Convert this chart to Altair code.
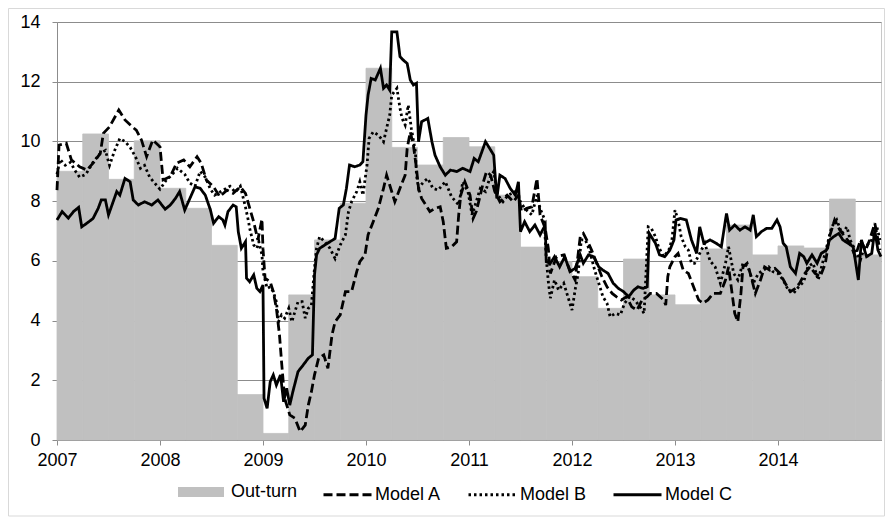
import altair as alt
import pandas as pd

# ---- Out-turn: quarterly values 2007Q1 .. 2014Q4 ----
quarter_start = [2007 + i * 0.25 for i in range(32)]
outturn = [9.0, 10.25, 8.73, 10.02,
           8.43, 7.76, 6.52, 1.52,
           0.22, 4.86, 6.70, 7.93,
           12.45, 9.80, 9.21, 10.13,
           9.82, 8.20, 6.46, 5.97,
           5.47, 4.41, 6.06, 4.86,
           4.53, 6.40, 7.20, 6.20,
           6.50, 6.43, 8.07, 6.20]

# ---- Model A (dashed) ----
a_year = [2007.00, 2007.02, 2007.09, 2007.14, 2007.22, 2007.29, 2007.35, 2007.42, 2007.45, 2007.51,
          2007.60, 2007.66, 2007.73, 2007.77, 2007.82, 2007.87, 2007.93, 2008.00, 2008.03, 2008.10,
          2008.16, 2008.23, 2008.29, 2008.36, 2008.40, 2008.45, 2008.52, 2008.58, 2008.65, 2008.71,
          2008.78, 2008.83, 2008.86, 2008.91, 2008.95, 2008.99, 2009.00, 2009.02, 2009.07, 2009.10,
          2009.13, 2009.16, 2009.18, 2009.21, 2009.26, 2009.31, 2009.36, 2009.41, 2009.44, 2009.47,
          2009.50, 2009.54, 2009.59, 2009.63, 2009.67, 2009.70, 2009.75, 2009.80, 2009.86, 2009.91,
          2009.94, 2009.99, 2010.02, 2010.07, 2010.12, 2010.17, 2010.20, 2010.23, 2010.28, 2010.33,
          2010.38, 2010.40, 2010.43, 2010.46, 2010.49, 2010.51, 2010.54, 2010.57, 2010.62, 2010.67,
          2010.72, 2010.75, 2010.78, 2010.83, 2010.88, 2010.90, 2010.92, 2010.96, 2011.01, 2011.04,
          2011.07, 2011.11, 2011.14, 2011.17, 2011.21, 2011.25, 2011.30, 2011.37, 2011.43, 2011.48,
          2011.51, 2011.56, 2011.61, 2011.66, 2011.69, 2011.74, 2011.77, 2011.79, 2011.85, 2011.92,
          2011.98, 2012.03, 2012.08, 2012.11, 2012.16, 2012.19, 2012.24, 2012.29, 2012.34, 2012.39,
          2012.43, 2012.48, 2012.53, 2012.58, 2012.63, 2012.68, 2012.73, 2012.76, 2012.82, 2012.89,
          2012.91, 2012.93, 2012.95, 2013.00, 2013.03, 2013.08, 2013.13, 2013.18, 2013.23, 2013.27,
          2013.32, 2013.37, 2013.44, 2013.49, 2013.52, 2013.55, 2013.58, 2013.61, 2013.64, 2013.66,
          2013.70, 2013.73, 2013.78, 2013.83, 2013.87, 2013.92, 2013.97, 2014.02, 2014.07, 2014.12,
          2014.17, 2014.21, 2014.26, 2014.31, 2014.36, 2014.41, 2014.46, 2014.50, 2014.55, 2014.60,
          2014.65, 2014.70, 2014.75, 2014.80, 2014.85, 2014.89, 2014.94, 2014.99]
a_val = [8.37, 9.88, 9.94, 9.38, 9.15, 9.04, 9.27, 9.60, 10.27, 10.49,
         11.05, 10.72, 10.49, 10.38, 10.05, 9.49, 10.05, 9.82, 8.71, 8.82,
         9.27, 9.38, 9.15, 9.49, 9.27, 8.71, 8.48, 8.15, 8.37, 8.26,
         8.48, 8.26, 7.90, 7.30, 6.70, 7.40, 6.40, 5.42, 5.30, 4.97,
         4.41, 3.52, 2.62, 1.40, 0.84, 0.73, 0.28, 0.50, 1.17, 1.62,
         2.18, 2.74, 2.85, 2.40, 3.52, 3.96, 4.19, 4.97, 4.97, 5.64,
         5.97, 6.20, 6.87, 7.31, 7.76, 8.43, 8.87, 8.54, 7.98, 8.43,
         8.87, 9.77, 10.32, 9.88, 9.10, 8.43, 8.09, 7.93, 7.65, 7.76,
         7.81, 7.31, 6.42, 6.47, 6.64, 7.54, 8.20, 8.65, 8.20, 7.42,
         7.65, 8.20, 8.65, 8.99, 8.87, 8.32, 7.98, 8.20, 7.98, 8.20,
         7.65, 7.76, 7.81, 8.76, 7.54, 7.09, 6.42, 5.58, 6.14, 6.20,
         5.69, 5.36, 6.81, 6.92, 6.59, 6.36, 5.92, 5.47, 5.13, 4.91,
         4.80, 4.69, 4.80, 4.46, 4.35, 4.69, 4.80, 4.91, 4.91, 4.69,
         4.52, 5.47, 5.80, 6.14, 6.25, 5.69, 5.58, 5.13, 4.69, 4.58,
         4.69, 4.91, 4.91, 5.36, 5.80, 5.02, 4.24, 3.96, 4.91, 5.80,
         5.92, 5.58, 4.91, 5.36, 5.80, 5.69, 5.75, 5.58, 5.25, 4.97,
         5.08, 5.25, 5.58, 5.80, 5.58, 5.47, 5.92, 6.81, 7.37, 7.03,
         6.81, 6.59, 6.14, 6.70, 6.36, 6.70, 7.26, 6.36]

# ---- Model B (dotted) ----
b_year = [2007.00, 2007.03, 2007.08, 2007.13, 2007.18, 2007.22, 2007.28, 2007.35, 2007.42, 2007.47,
          2007.51, 2007.56, 2007.61, 2007.66, 2007.71, 2007.76, 2007.81, 2007.85, 2007.90, 2007.95,
          2008.00, 2008.06, 2008.12, 2008.17, 2008.24, 2008.29, 2008.34, 2008.39, 2008.44, 2008.49,
          2008.53, 2008.58, 2008.63, 2008.68, 2008.73, 2008.78, 2008.83, 2008.86, 2008.87, 2008.91,
          2008.94, 2008.96, 2008.99, 2009.00, 2009.04, 2009.07, 2009.10, 2009.13, 2009.15, 2009.18,
          2009.21, 2009.25, 2009.28, 2009.31, 2009.34, 2009.38, 2009.41, 2009.44, 2009.47, 2009.50,
          2009.52, 2009.55, 2009.60, 2009.65, 2009.70, 2009.75, 2009.80, 2009.83, 2009.86, 2009.91,
          2009.94, 2009.97, 2010.01, 2010.03, 2010.07, 2010.12, 2010.17, 2010.20, 2010.23, 2010.25,
          2010.30, 2010.33, 2010.35, 2010.38, 2010.41, 2010.44, 2010.48, 2010.49, 2010.51, 2010.56,
          2010.60, 2010.65, 2010.70, 2010.77, 2010.83, 2010.90, 2010.94, 2010.99, 2011.03, 2011.07,
          2011.11, 2011.16, 2011.20, 2011.24, 2011.28, 2011.33, 2011.38, 2011.45, 2011.50, 2011.54,
          2011.61, 2011.66, 2011.69, 2011.73, 2011.75, 2011.77, 2011.79, 2011.83, 2011.87, 2011.92,
          2011.96, 2012.00, 2012.03, 2012.06, 2012.09, 2012.13, 2012.17, 2012.22, 2012.26, 2012.30,
          2012.34, 2012.37, 2012.42, 2012.47, 2012.51, 2012.56, 2012.61, 2012.66, 2012.70, 2012.74,
          2012.77, 2012.81, 2012.84, 2012.89, 2012.94, 2012.97, 2013.00, 2013.03, 2013.06, 2013.10,
          2013.13, 2013.16, 2013.19, 2013.24, 2013.29, 2013.34, 2013.39, 2013.44, 2013.49, 2013.52,
          2013.57, 2013.61, 2013.66, 2013.71, 2013.76, 2013.81, 2013.86, 2013.91, 2013.95, 2014.00,
          2014.05, 2014.10, 2014.15, 2014.20, 2014.25, 2014.29, 2014.34, 2014.39, 2014.44, 2014.49,
          2014.52, 2014.57, 2014.62, 2014.67, 2014.70, 2014.75, 2014.80, 2014.83, 2014.88, 2014.91,
          2014.96, 2014.99]
b_val = [8.90, 9.40, 9.20, 9.30, 9.00, 8.80, 8.90, 9.30, 9.60, 9.70,
         9.20, 9.70, 10.10, 10.00, 9.80, 9.50, 9.10, 9.20, 8.80, 8.60,
         8.40, 8.70, 8.90, 9.10, 8.90, 8.60, 8.50, 9.00, 8.80, 8.40,
         8.20, 8.30, 8.40, 8.50, 8.30, 8.50, 7.80, 7.31, 7.10, 6.53,
         6.42, 6.64, 6.20, 5.64, 5.08, 5.13, 4.97, 4.63, 3.96, 4.19,
         4.08, 4.41, 3.96, 4.30, 4.63, 4.63, 4.08, 4.41, 4.52, 5.75,
         6.42, 6.81, 6.64, 6.42, 6.08, 6.53, 6.87, 7.65, 7.98, 8.32,
         8.65, 8.20, 9.21, 10.10, 10.32, 10.21, 9.99, 10.44, 10.88, 11.55,
         11.78, 11.11, 10.77, 10.55, 11.22, 10.44, 9.65, 8.87, 8.43, 8.65,
         8.76, 8.43, 8.37, 8.65, 8.15, 7.87, 8.65, 8.32, 7.54, 7.98,
         8.43, 8.32, 8.76, 8.99, 8.20, 7.98, 8.20, 8.32, 7.98, 7.76,
         7.54, 8.20, 7.76, 7.42, 6.08, 5.30, 4.75, 5.36, 5.02, 5.25,
         4.80, 4.35, 5.02, 5.58, 6.70, 6.70, 6.36, 5.69, 5.25, 4.80,
         4.58, 4.13, 4.24, 4.19, 4.58, 4.80, 4.69, 4.46, 4.24, 7.14,
         7.09, 6.81, 6.47, 6.14, 6.36, 6.70, 7.70, 7.37, 6.81, 6.47,
         6.36, 5.92, 5.92, 6.25, 6.59, 6.00, 5.80, 5.25, 5.92, 6.47,
         5.58, 5.36, 5.92, 5.80, 5.25, 5.58, 5.69, 5.80, 5.64, 5.58,
         5.36, 5.02, 4.91, 5.13, 5.30, 5.80, 5.92, 5.36, 6.03, 6.70,
         7.14, 7.37, 6.92, 7.14, 6.70, 6.36, 6.03, 6.36, 6.59, 6.70,
         7.14, 6.70]

# ---- Model C (solid) ----
c_year = [2007.00, 2007.05, 2007.11, 2007.16, 2007.21, 2007.24, 2007.29, 2007.35, 2007.40, 2007.43,
          2007.47, 2007.50, 2007.54, 2007.58, 2007.61, 2007.66, 2007.71, 2007.74, 2007.79, 2007.85,
          2007.92, 2007.98, 2008.05, 2008.10, 2008.15, 2008.19, 2008.24, 2008.29, 2008.34, 2008.39,
          2008.44, 2008.49, 2008.52, 2008.57, 2008.61, 2008.63, 2008.66, 2008.71, 2008.74, 2008.76,
          2008.79, 2008.83, 2008.84, 2008.87, 2008.91, 2008.94, 2008.97, 2009.00, 2009.01, 2009.04,
          2009.07, 2009.10, 2009.13, 2009.17, 2009.20, 2009.23, 2009.26, 2009.29, 2009.34, 2009.39,
          2009.44, 2009.48, 2009.50, 2009.52, 2009.55, 2009.60, 2009.65, 2009.70, 2009.74, 2009.78,
          2009.81, 2009.84, 2009.89, 2009.94, 2009.97, 2010.00, 2010.02, 2010.05, 2010.09, 2010.14,
          2010.17, 2010.20, 2010.23, 2010.25, 2010.30, 2010.33, 2010.36, 2010.40, 2010.43, 2010.46,
          2010.49, 2010.51, 2010.54, 2010.60, 2010.64, 2010.67, 2010.72, 2010.77, 2010.82, 2010.88,
          2010.94, 2011.01, 2011.05, 2011.09, 2011.16, 2011.20, 2011.24, 2011.27, 2011.30, 2011.35,
          2011.40, 2011.45, 2011.48, 2011.50, 2011.54, 2011.59, 2011.64, 2011.69, 2011.74, 2011.75,
          2011.79, 2011.83, 2011.88, 2011.93, 2011.98, 2012.03, 2012.08, 2012.11, 2012.16, 2012.21,
          2012.26, 2012.30, 2012.35, 2012.40, 2012.45, 2012.50, 2012.55, 2012.60, 2012.64, 2012.69,
          2012.73, 2012.75, 2012.77, 2012.81, 2012.85, 2012.90, 2012.95, 2012.99, 2013.01, 2013.05,
          2013.11, 2013.16, 2013.21, 2013.24, 2013.28, 2013.34, 2013.40, 2013.45, 2013.50, 2013.53,
          2013.58, 2013.63, 2013.68, 2013.73, 2013.76, 2013.79, 2013.84, 2013.89, 2013.94, 2013.99,
          2014.02, 2014.05, 2014.08, 2014.12, 2014.17, 2014.21, 2014.25, 2014.28, 2014.33, 2014.38,
          2014.42, 2014.47, 2014.50, 2014.54, 2014.59, 2014.63, 2014.68, 2014.73, 2014.78, 2014.81,
          2014.86, 2014.91, 2014.94, 2014.97, 2015.00]
c_val = [7.37, 7.65, 7.43, 7.65, 7.79, 7.14, 7.26, 7.42, 7.76, 8.04,
         8.04, 7.54, 7.93, 8.32, 8.20, 8.76, 8.65, 8.04, 7.87, 7.98,
         7.87, 8.04, 7.73, 7.87, 8.09, 8.32, 7.70, 8.09, 8.48, 8.43,
         8.20, 7.70, 7.26, 7.48, 7.37, 7.20, 7.65, 7.87, 7.81, 6.98,
         6.42, 6.64, 5.42, 5.30, 5.53, 5.08, 4.97, 5.19, 1.40, 1.06,
         1.95, 2.18, 1.84, 2.18, 1.28, 1.73, 1.17, 1.62, 2.29, 2.51,
         2.74, 2.85, 5.53, 6.20, 6.42, 6.53, 6.64, 6.75, 7.76, 7.87,
         8.43, 9.21, 9.15, 9.21, 9.32, 10.88, 11.55, 12.11, 12.06, 12.45,
         11.78, 11.89, 11.72, 13.67, 13.67, 12.84, 12.73, 12.61, 12.06, 11.89,
         11.95, 9.99, 10.66, 10.77, 9.99, 9.54, 9.15, 8.87, 9.04, 8.99,
         9.10, 8.99, 9.43, 9.32, 9.99, 9.77, 9.54, 8.09, 8.87, 8.76,
         8.43, 8.20, 8.65, 6.98, 7.31, 6.98, 7.20, 6.87, 7.20, 5.97,
         5.92, 6.14, 5.80, 6.14, 5.64, 5.75, 6.20, 5.92, 6.20, 6.14,
         5.80, 5.69, 5.58, 5.25, 5.08, 4.97, 4.80, 5.02, 5.13, 5.08,
         5.13, 6.92, 6.81, 6.59, 6.20, 6.14, 6.36, 6.70, 7.37, 7.42,
         7.37, 6.70, 6.25, 7.14, 6.59, 6.70, 6.59, 6.47, 7.59, 7.03,
         7.20, 7.03, 7.14, 7.03, 7.54, 6.81, 6.98, 7.09, 7.09, 7.37,
         7.14, 6.59, 6.47, 5.80, 5.58, 6.25, 6.14, 5.92, 6.20, 5.92,
         6.25, 6.36, 6.70, 6.81, 6.92, 6.70, 6.59, 6.47, 5.36, 6.70,
         6.14, 6.25, 7.03, 6.36, 6.14]

models = ["Model A", "Model B", "Model C"]

q_df = pd.DataFrame({
    "start": quarter_start,
    "end": [s + 0.25 for s in quarter_start],
    "value": outturn,
    "kind": ["Out-turn"] * len(outturn),
})

rows = []
for name, yrs, vals in [("Model A", a_year, a_val), ("Model B", b_year, b_val), ("Model C", c_year, c_val)]:
    for i, (yy, vv) in enumerate(zip(yrs, vals)):
        rows.append({"year": yy, "value": vv, "model": name, "idx": i})
line_df = pd.DataFrame(rows)

FONT = "Liberation Sans"
FS = 18
GRID = "#8C8C8C"
GRAY = "#C0C0C0"

xscale = alt.Scale(domain=[2007, 2015], nice=False, zero=False)
yscale = alt.Scale(domain=[0, 14], nice=False)

xaxis = alt.Axis(values=list(range(2007, 2015)), format="d", grid=False, title=None,
                 labelFontSize=FS, labelColor="#000000", labelPadding=6,
                 tickSize=5, tickColor=GRID, domainColor=GRID, labelFlush=False)
yaxis = alt.Axis(values=list(range(0, 15, 2)), grid=True, gridColor=GRID, title=None,
                 labelFontSize=FS, labelColor="#000000", labelPadding=12,
                 tickSize=5, tickColor=GRID, domainColor=GRID)

bars = alt.Chart(q_df).mark_rect(stroke=GRAY, strokeWidth=0.8).encode(
    x=alt.X("start:Q", scale=xscale, axis=xaxis),
    x2="end:Q",
    y=alt.Y("value:Q", scale=yscale, axis=yaxis),
    y2=alt.datum(0),
    fill=alt.Fill("kind:N",
                  scale=alt.Scale(domain=["Out-turn"], range=[GRAY]),
                  legend=alt.Legend(orient="none", legendX=121, legendY=447, title=None,
                                    symbolType="M-1,-0.22H1V0.22H-1Z", symbolSize=2116,
                                    symbolStrokeWidth=0, labelFontSize=FS, labelColor="#000000",
                                    labelOffset=7, labelFont=FONT)),
)

lines = alt.Chart(line_df).mark_line(color="black", strokeWidth=2.8).encode(
    x=alt.X("year:Q", scale=xscale),
    y=alt.Y("value:Q", scale=yscale),
    detail="model:N",
    order="idx:Q",
    strokeDash=alt.StrokeDash("model:N",
                              scale=alt.Scale(domain=models, range=[[9, 4], [2.5, 3], [1, 0]]),
                              legend=alt.Legend(orient="none", legendX=265, legendY=447, title=None,
                                                direction="horizontal", symbolType="stroke",
                                                symbolSize=2304, symbolStrokeWidth=2.8,
                                                symbolStrokeColor="black", labelFontSize=FS,
                                                labelColor="#000000", labelOffset=2,
                                                columnPadding=20, labelFont=FONT)),
)

frame = alt.Chart(pd.DataFrame({"f": [0]})).mark_rect(fill=None, stroke="#D9D9D9", strokeWidth=1).encode(
    x=alt.value(-48.5), x2=alt.value(827.5), y=alt.value(-13.5), y2=alt.value(494)
)

chart = alt.layer(frame, bars, lines).properties(
    width=824, height=418,
    autosize=alt.AutoSizeParams(type="none"),
    padding={"left": 49, "top": 14, "right": 4, "bottom": 78},
).configure(font=FONT).configure_view(stroke="#C8C8C8").configure_axis(labelFont=FONT)

chart.save("out.html", embed_options={"renderer": "svg", "actions": False})
